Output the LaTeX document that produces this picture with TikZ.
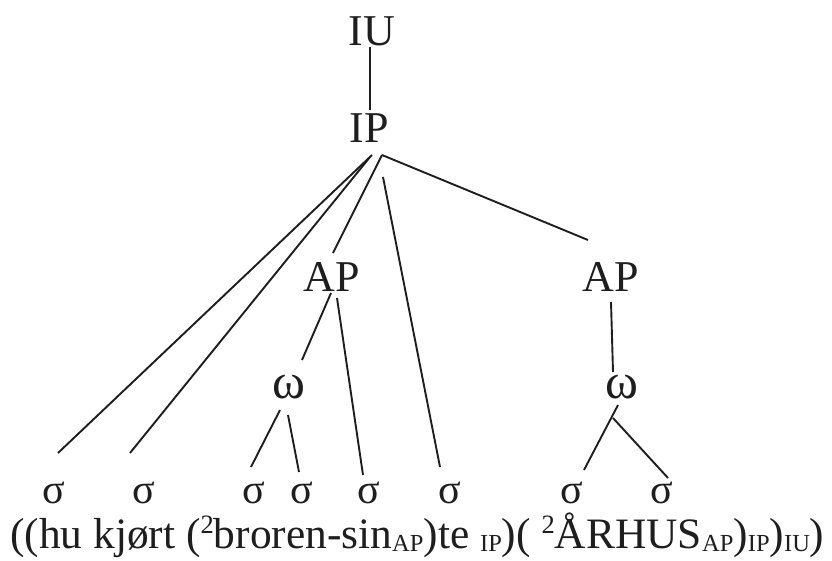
\documentclass[tikz,border=0pt]{standalone}
\usepackage{fontspec}
\setmainfont{Liberation Serif}
\definecolor{ink}{HTML}{1E1E1E}
\newcommand{\supn}[1]{\raisebox{15pt}{\fontsize{26.5}{26.5}\selectfont #1}}
\newcommand{\subn}[1]{\raisebox{-3pt}{\fontsize{24.5}{24.5}\selectfont #1}}
\begin{document}
\begin{tikzpicture}[x=1pt,y=-1pt,
  lab/.style={inner sep=0pt,anchor=base,text=ink,font=\fontsize{44}{48}\selectfont},
  omg/.style={inner sep=0pt,anchor=base,text=ink,font=\fontsize{50}{54}\selectfont},
  syl/.style={inner sep=0pt,anchor=base,text=ink,font=\fontsize{42}{46}\selectfont},
  edge/.style={draw=ink,line width=1.9pt}]
\useasboundingbox (0,0) rectangle (832,560);
\node[lab] (IU) at (372,45) {IU};
\node[lab] (IP) at (369,142) {IP};
\node[lab] (AP1) at (332,291) {AP};
\node[lab] (AP2) at (611,291) {AP};
\node[omg] (w1) at (289,398) {ω};
\node[omg] (w2) at (622,398) {ω};
\foreach \i/\x in {1/54,2/144,3/254,4/302,5/369,6/450,7/572,8/662}
  \node[syl] (s\i) at (\x,503) {σ};
\node[inner sep=0pt,anchor=base west,text=ink,font=\fontsize{43.4}{47}\selectfont] (txt) at (10,548)
 {((hu kjørt (\supn{2}broren-sin\subn{AP})te \subn{IP})( \supn{2}ÅRHUS\subn{AP})\subn{IP})\subn{IU})};
% IU - IP
\draw[edge] ([shift={(-2,2)}]IU.base) -- ([shift={(1,-32)}]IP.base);
% IP fan
\draw[edge] ([shift={(3,13)}]IP.base) -- ([shift={(4,-50)}]s1.base);
\draw[edge] ([shift={(1,15)}]IP.base) -- ([shift={(-14,-50)}]s2.base);
\draw[edge] ([shift={(13,13)}]IP.base) -- ([shift={(1,-38)}]AP1.base);
\draw[edge] ([shift={(14,35)}]IP.base) -- ([shift={(-10,-36)}]s6.base);
\draw[edge] ([shift={(13,13)}]IP.base) -- ([shift={(-23,-51)}]AP2.base);
% AP1
\draw[edge] ([shift={(-1,2)}]AP1.base) -- ([shift={(13,-38)}]w1.base);
\draw[edge] ([shift={(5,7)}]AP1.base) -- ([shift={(-6,-28)}]s5.base);
% AP2
\draw[edge] ([shift={(0,11)}]AP2.base) -- ([shift={(-9,-26)}]w2.base);
% w1
\draw[edge] ([shift={(-9,12)}]w1.base) -- ([shift={(-3,-36)}]s3.base);
\draw[edge] ([shift={(-1,17)}]w1.base) -- ([shift={(-3,-31)}]s4.base);
% w2
\draw[edge] ([shift={(-4,7)}]w2.base) -- ([shift={(12,-33)}]s7.base);
\draw[edge] ([shift={(-9,20)}]w2.base) -- ([shift={(6,-25)}]s8.base);
\end{tikzpicture}
\end{document}
